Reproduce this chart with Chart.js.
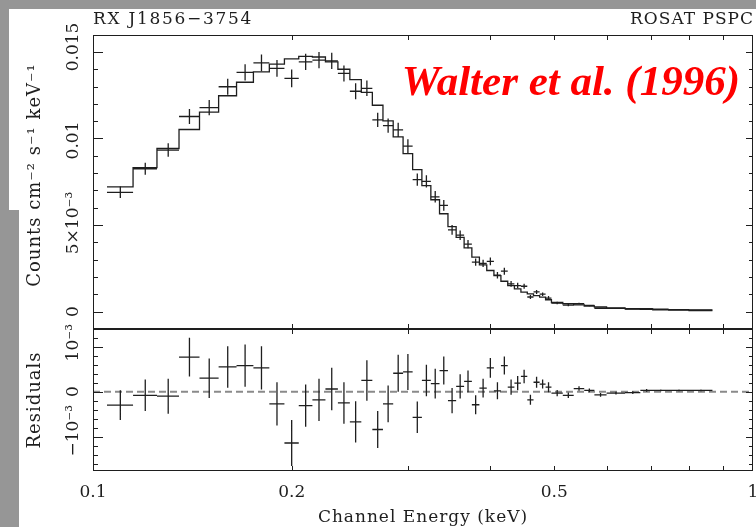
<!DOCTYPE html>
<html>
<head>
<meta charset="utf-8">
<title>RX J1856-3754 ROSAT PSPC spectrum</title>
<script src="https://cdn.jsdelivr.net/npm/chart.js@4.4.1/dist/chart.umd.min.js"></script>
<style>
  html, body { margin: 0; padding: 0; background: #fff; }
  #page { position: relative; width: 756px; height: 527px; overflow: hidden; background: #fff; }
  .band { position: absolute; background: #969696; }
  canvas { position: absolute; left: 0; }
</style>
</head>
<body>
<div id="page">
  <div class="band" style="left:0;top:0;width:756px;height:9px"></div>
  <div class="band" style="left:0;top:0;width:9px;height:527px"></div>
  <div class="band" style="left:0;top:210px;width:19px;height:317px"></div>
  <canvas id="spectrumChart" width="756" height="330" style="top:0"></canvas>
  <canvas id="residualChart" width="756" height="227" style="top:300px"></canvas>
</div>
<script>
// ROSAT PSPC spectrum of RX J1856-3754.
// Counts, errors, model and residuals are in units of 1e-3 counts cm^-2 s^-1 keV^-1.
var binEdges = [0.105, 0.115, 0.125, 0.135, 0.145, 0.155, 0.165, 0.175, 0.185, 0.195,
                0.205, 0.215, 0.225, 0.235, 0.245, 0.255, 0.265, 0.275, 0.285, 0.295,
                0.305, 0.315, 0.325, 0.335, 0.345, 0.355, 0.365, 0.375, 0.385, 0.395,
                0.405, 0.415, 0.425, 0.435, 0.445, 0.455, 0.465, 0.475, 0.485, 0.495,
                0.515, 0.535, 0.555, 0.575, 0.600, 0.640, 0.675, 0.705, 0.745, 0.800, 0.868];

var counts = [6.89, 8.25, 9.33, 11.27, 11.78, 12.99, 13.82, 14.37, 14.05, 13.47,
              14.43, 14.53, 14.48, 13.76, 12.73, 12.90, 11.07, 10.74, 10.50, 9.56,
              7.62, 7.52, 6.63, 6.13, 4.72, 4.41, 3.90, 2.85, 2.78, 2.90,
              2.10, 2.33, 1.60, 1.50, 1.46, 0.84, 1.13, 1.00, 0.78, 0.49,
              0.37, 0.45, 0.35, 0.19, 0.18, 0.14, 0.16, 0.13, 0.11, 0.09];

var countErrors = [0.33, 0.35, 0.39, 0.43, 0.44, 0.46, 0.47, 0.48, 0.48, 0.51,
                   0.47, 0.47, 0.47, 0.46, 0.46, 0.45, 0.41, 0.41, 0.41, 0.40,
                   0.35, 0.35, 0.33, 0.31, 0.28, 0.27, 0.24, 0.21, 0.21, 0.22,
                   0.19, 0.20, 0.17, 0.16, 0.15, 0.11, 0.12, 0.10, 0.11, 0.07,
                   0.06, 0.05, 0.04, 0.04, 0.03, 0.03, 0.03, 0.02, 0.02, 0.02];

var model = [7.20, 8.31, 9.42, 10.52, 11.52, 12.47, 13.25, 13.85, 14.30, 14.60,
             14.74, 14.71, 14.43, 14.00, 13.40, 12.66, 11.92, 11.02, 10.09, 9.13,
             8.20, 7.28, 6.46, 5.65, 4.91, 4.29, 3.68, 3.14, 2.70, 2.37,
             2.08, 1.75, 1.50, 1.31, 1.12, 1.02, 0.92, 0.83, 0.68, 0.52,
             0.45, 0.38, 0.32, 0.26, 0.21, 0.16, 0.13, 0.10, 0.08, 0.06];

var residuals = [-0.30, -0.08, -0.10, 0.77, 0.30, 0.55, 0.58, 0.53, -0.27, -1.14,
                 -0.31, -0.18, 0.06, -0.25, -0.67, 0.25, -0.84, -0.27, 0.41, 0.44,
                 -0.57, 0.25, 0.18, 0.47, -0.20, 0.12, 0.23, -0.29, 0.08, 0.53,
                 0.02, 0.58, 0.10, 0.19, 0.34, -0.18, 0.21, 0.17, 0.10, -0.03,
                 -0.08, 0.07, 0.03, -0.07, -0.03, -0.02, 0.03, 0.03, 0.03, 0.03];

// axis ticks and labels
var xTickValues = [0.1, 0.2, 0.5, 1];
var xTickLabels = ['0.1', '0.2', '0.5', '1'];
var xMinorTicks = [0.2, 0.3, 0.4, 0.5, 0.6, 0.7, 0.8, 0.9];
var countTickValues = [0, 5, 10, 15];
var countTickLabels = ['0', '5×10⁻³', '0.01', '0.015'];
var countMinorTicks = [1, 2, 3, 4, 6, 7, 8, 9, 11, 12, 13, 14];
var residTickValues = [-1, 0, 1];
var residTickLabels = ['−10⁻³', '0', '10⁻³'];
var residMinorTicks = [-1.6, -1.4, -1.2, -0.8, -0.6, -0.4, -0.2, 0.2, 0.4, 0.6, 0.8, 1.2];

var ink = '#1e1e1e';
var serif = '"DejaVu Serif", serif';

// data crosses: horizontal bar over the bin, vertical bar for the error
function crosses(values, errors) {
    var pts = [];
    for (var i = 0; i < values.length; i++) {
        var lo = binEdges[i], hi = binEdges[i + 1], mid = (lo + hi) / 2;
        pts.push({x: lo, y: values[i]}, {x: hi, y: values[i]}, {x: mid, y: null});
        pts.push({x: mid, y: values[i] - errors[i]}, {x: mid, y: values[i] + errors[i]}, {x: mid, y: null});
    }
    return pts;
}

// histogram of the model, one step per bin
function modelSteps() {
    var pts = [];
    for (var i = 0; i < binEdges.length; i++) {
        pts.push({x: binEdges[i], y: model[Math.min(i, model.length - 1)]});
    }
    return pts;
}

function drawText(ctx, t) {
    ctx.save();
    ctx.font = t.font;
    ctx.fillStyle = t.color || ink;
    ctx.textAlign = t.align || 'left';
    ctx.textBaseline = t.baseline || 'alphabetic';
    ctx.letterSpacing = t.spacing || '0px';
    ctx.translate(t.x, t.y);
    if (t.rotate) ctx.rotate(-Math.PI / 2);
    ctx.fillText(t.text, 0, 0);
    ctx.restore();
}

// frame, inward ticks and labels drawn from the chart's own scales
var axesFrame = {
    id: 'axesFrame',
    afterDraw: function(chart, args, o) {
        var ctx = chart.ctx, a = chart.chartArea;
        var xs = chart.scales.x, ys = chart.scales.y;
        ctx.save();
        ctx.strokeStyle = ink;
        ctx.lineWidth = 1;
        ctx.beginPath();
        ctx.moveTo(a.left + 0.5, a.top); ctx.lineTo(a.left + 0.5, a.bottom);
        ctx.moveTo(a.right - 0.5, a.top); ctx.lineTo(a.right - 0.5, a.bottom);
        if (o.frameTop) { ctx.moveTo(a.left, a.top + 0.5); ctx.lineTo(a.right, a.top + 0.5); }
        if (o.frameBottom) { ctx.moveTo(a.left, a.bottom - 0.5); ctx.lineTo(a.right, a.bottom - 0.5); }
        xMinorTicks.forEach(function(v) {
            var px = Math.round(xs.getPixelForValue(v)) + 0.5;
            ctx.moveTo(px, a.top); ctx.lineTo(px, a.top + 5);
            ctx.moveTo(px, a.bottom); ctx.lineTo(px, a.bottom - 5);
        });
        o.minor.forEach(function(v) {
            var py = Math.round(ys.getPixelForValue(v)) + 0.5;
            ctx.moveTo(a.left, py); ctx.lineTo(a.left + 5, py);
            ctx.moveTo(a.right, py); ctx.lineTo(a.right - 4, py);
        });
        o.major.forEach(function(v) {
            var py = Math.round(ys.getPixelForValue(v)) + 0.5;
            ctx.moveTo(a.left, py); ctx.lineTo(a.left + 10, py);
            ctx.moveTo(a.right, py); ctx.lineTo(a.right - 7, py);
        });
        ctx.stroke();
        if (o.thickBottom) {
            ctx.lineWidth = 2;
            ctx.beginPath();
            ctx.moveTo(a.left, a.bottom); ctx.lineTo(a.right, a.bottom);
            ctx.stroke();
        }
        // y tick labels, rotated like the original
        o.major.forEach(function(v, i) {
            var shift = (o.labelShift && o.labelShift[i]) || 0;
            drawText(ctx, {text: o.labels[i], x: 74, y: ys.getPixelForValue(v) + shift, font: '17px ' + serif,
                           align: 'center', baseline: 'middle', rotate: true});
        });
        if (o.xLabels) {
            xTickValues.forEach(function(v, i) {
                drawText(ctx, {text: xTickLabels[i], x: xs.getPixelForValue(v), y: a.bottom + 26,
                               font: '17px ' + serif, align: 'center'});
            });
        }
        (o.texts || []).forEach(function(t) { drawText(ctx, t); });
        ctx.restore();
    }
};

var baseOptions = function(pad, yMin, yMax, frameOpts) {
    return {
        responsive: false,
        animation: false,
        events: [],
        layout: { autoPadding: false, padding: pad },
        scales: {
            x: { type: 'logarithmic', min: 0.1, max: 1, display: false },
            y: { type: 'linear', min: yMin, max: yMax, display: false }
        },
        plugins: {
            legend: { display: false },
            tooltip: { enabled: false },
            axesFrame: frameOpts
        }
    };
};

console.log('Creating spectrum chart..');
var spectrum = new Chart(document.getElementById('spectrumChart'), {
    type: 'line',
    data: {
        datasets: [{
            label: 'Data',
            data: crosses(counts, countErrors),
            borderColor: ink,
            borderWidth: 1.3,
            pointRadius: 0,
            spanGaps: false
        }, {
            label: 'Model',
            data: modelSteps(),
            stepped: true,
            borderColor: ink,
            borderWidth: 1.3,
            pointRadius: 0
        }]
    },
    options: baseOptions({left: 93, right: 3, top: 35, bottom: 1}, -1.01, 15.98, {
        major: countTickValues,
        minor: countMinorTicks,
        labels: countTickLabels,
        labelShift: [0, -2, 2, -5],
        frameTop: true,
        thickBottom: true,
        texts: [
            {text: 'RX J1856−3754', x: 93, y: 24, font: '17px ' + serif, spacing: '1.7px'},
            {text: 'ROSAT PSPC', x: 754, y: 24, font: '17px ' + serif, align: 'right', spacing: '1px'},
            {text: 'Counts cm⁻² s⁻¹ keV⁻¹', x: 35, y: 175, font: '18px ' + serif,
             align: 'center', baseline: 'middle', rotate: true, spacing: '1px'},
            {text: 'Walter et al. (1996)', x: 740, y: 95, font: 'italic bold 43px "Liberation Serif", serif',
             color: '#ff0000', align: 'right'}
        ]
    }),
    plugins: [axesFrame]
});

console.log('Creating residual chart..');
var residual = new Chart(document.getElementById('residualChart'), {
    type: 'line',
    data: {
        datasets: [{
            label: 'Residuals',
            data: crosses(residuals, countErrors),
            borderColor: ink,
            borderWidth: 1.3,
            pointRadius: 0,
            spanGaps: false
        }, {
            label: 'Zero',
            data: [{x: 0.1, y: 0}, {x: 1, y: 0}],
            borderColor: '#8a8a8a',
            borderWidth: 2,
            borderDash: [7, 4],
            pointRadius: 0
        }]
    },
    options: baseOptions({left: 93, right: 3, top: 29, bottom: 56}, -1.762, 1.393, {
        major: residTickValues,
        minor: residMinorTicks,
        labels: residTickLabels,
        labelShift: [-6, 0, -4],
        frameBottom: true,
        xLabels: true,
        texts: [
            {text: 'Residuals', x: 35, y: 100, font: '18px ' + serif,
             align: 'center', baseline: 'middle', rotate: true, spacing: '1px'},
            {text: 'Channel Energy (keV)', x: 423, y: 222, font: '17px ' + serif,
             align: 'center', spacing: '1px'}
        ]
    }),
    plugins: [axesFrame]
});
</script>
</body>
</html>
